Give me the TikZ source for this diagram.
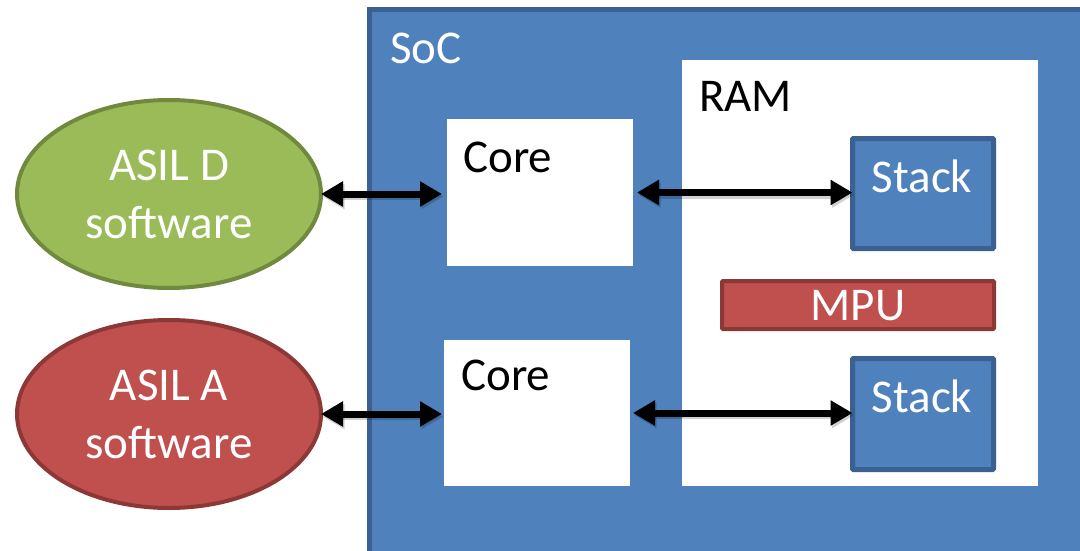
\documentclass[tikz,border=0pt]{standalone}
\usepackage{fontspec}
\setmainfont{Carlito}
\usetikzlibrary{shapes.geometric,arrows.meta}
\definecolor{socblue}{HTML}{4F81BD}
\definecolor{socedge}{HTML}{3B6092}
\definecolor{asilgreen}{HTML}{9BBB59}
\definecolor{greenedge}{HTML}{71893F}
\definecolor{asilred}{HTML}{C0504D}
\definecolor{rededge}{HTML}{8C3836}
\tikzset{
  box/.style={rectangle, inner sep=0pt, outer sep=0pt},
  whitebox/.style={box, fill=white},
  stackbox/.style={box, fill=socblue, draw=socedge, line width=5pt, rounded corners=1pt},
  mpubox/.style={box, fill=asilred, draw=rededge, line width=4pt, rounded corners=1pt},
  swell/.style={ellipse, inner sep=0pt, outer sep=0pt, line width=4pt,
    minimum width=304pt, minimum height=188pt, align=center, text=white,
    font=\fontsize{47}{58}\selectfont},
  blacktext/.style={inner sep=0pt, font=\fontsize{47}{56}\selectfont, text=black},
  whitetext/.style={inner sep=0pt, font=\fontsize{47}{56}\selectfont, text=white},
  biarrow/.style={line width=7pt, {Triangle[length=22pt,width=24pt]}-{Triangle[length=22pt,width=24pt]}},
  arrowshade/.style={biarrow, draw=black, opacity=0.18}
}
\begin{document}
\begin{tikzpicture}[x=1pt, y=-1pt]
  \useasboundingbox (0,0) rectangle (1080,551);
  \clip (0,0) rectangle (1080,551);

  % SoC frame, running past the right and bottom edges
  \node[box, fill=socblue, draw=socedge, line width=5pt,
        minimum width=740pt, minimum height=560pt, anchor=north west]
        (soc) at (369.5,9.5) {};
  \node[whitetext, anchor=base west] (soclabel) at (390,64) {SoC};

  % cores
  \node[whitebox, minimum width=186pt, minimum height=147pt] (core1) at (540,192.5) {};
  \node[blacktext, anchor=base west] (core1label) at (463,172) {Core};
  \node[whitebox, minimum width=186pt, minimum height=146pt] (core2) at (537,413) {};
  \node[blacktext, anchor=base west] (core2label) at (461,390) {Core};

  % RAM with the two stacks and the MPU
  \node[whitebox, minimum width=356pt, minimum height=426pt] (ram) at (860,273) {};
  \node[blacktext, anchor=base west] (ramlabel) at (699,112) {RAM};

  \node[stackbox, minimum width=141pt, minimum height=110pt] (stack1) at (923,193.5) {};
  \node[whitetext, anchor=base] (stack1label) at (922,192) {Stack};
  \node[mpubox, minimum width=272pt, minimum height=48pt] (mpu) at (858,305) {};
  \node[whitetext, anchor=base] (mpulabel) at (858,320) {MPU};
  \node[stackbox, minimum width=141pt, minimum height=111pt] (stack2) at (923,414) {};
  \node[whitetext, anchor=base] (stack2label) at (922,412) {Stack};

  % software partitions
  \node[swell, fill=asilgreen, draw=greenedge] (asild) at (169,194) {ASIL D\\software};
  \node[swell, fill=asilred, draw=rededge] (asila) at (169,414) {ASIL A\\software};

  % soft shadows under the connectors
  \begin{scope}[transform canvas={shift={(1.5pt,-2.5pt)}}]
    \draw[arrowshade, shorten >=5pt] (asild.east) -- (asild.east -| core1.west);
    \draw[arrowshade, shorten <=4pt] (core1.east) -- (core1.east -| stack1.west);
    \draw[arrowshade, shorten >=2pt] (asila.east) -- (asila.east -| core2.west);
    \draw[arrowshade, shorten <=3pt] (core2.east) -- (core2.east -| stack2.west);
  \end{scope}

  % connectors
  \draw[biarrow, shorten >=5pt] (asild.east) -- (asild.east -| core1.west);
  \draw[biarrow, shorten <=4pt] (core1.east) -- (core1.east -| stack1.west);
  \draw[biarrow, shorten >=2pt] (asila.east) -- (asila.east -| core2.west);
  \draw[biarrow, shorten <=3pt] (core2.east) -- (core2.east -| stack2.west);
\end{tikzpicture}
\end{document}
